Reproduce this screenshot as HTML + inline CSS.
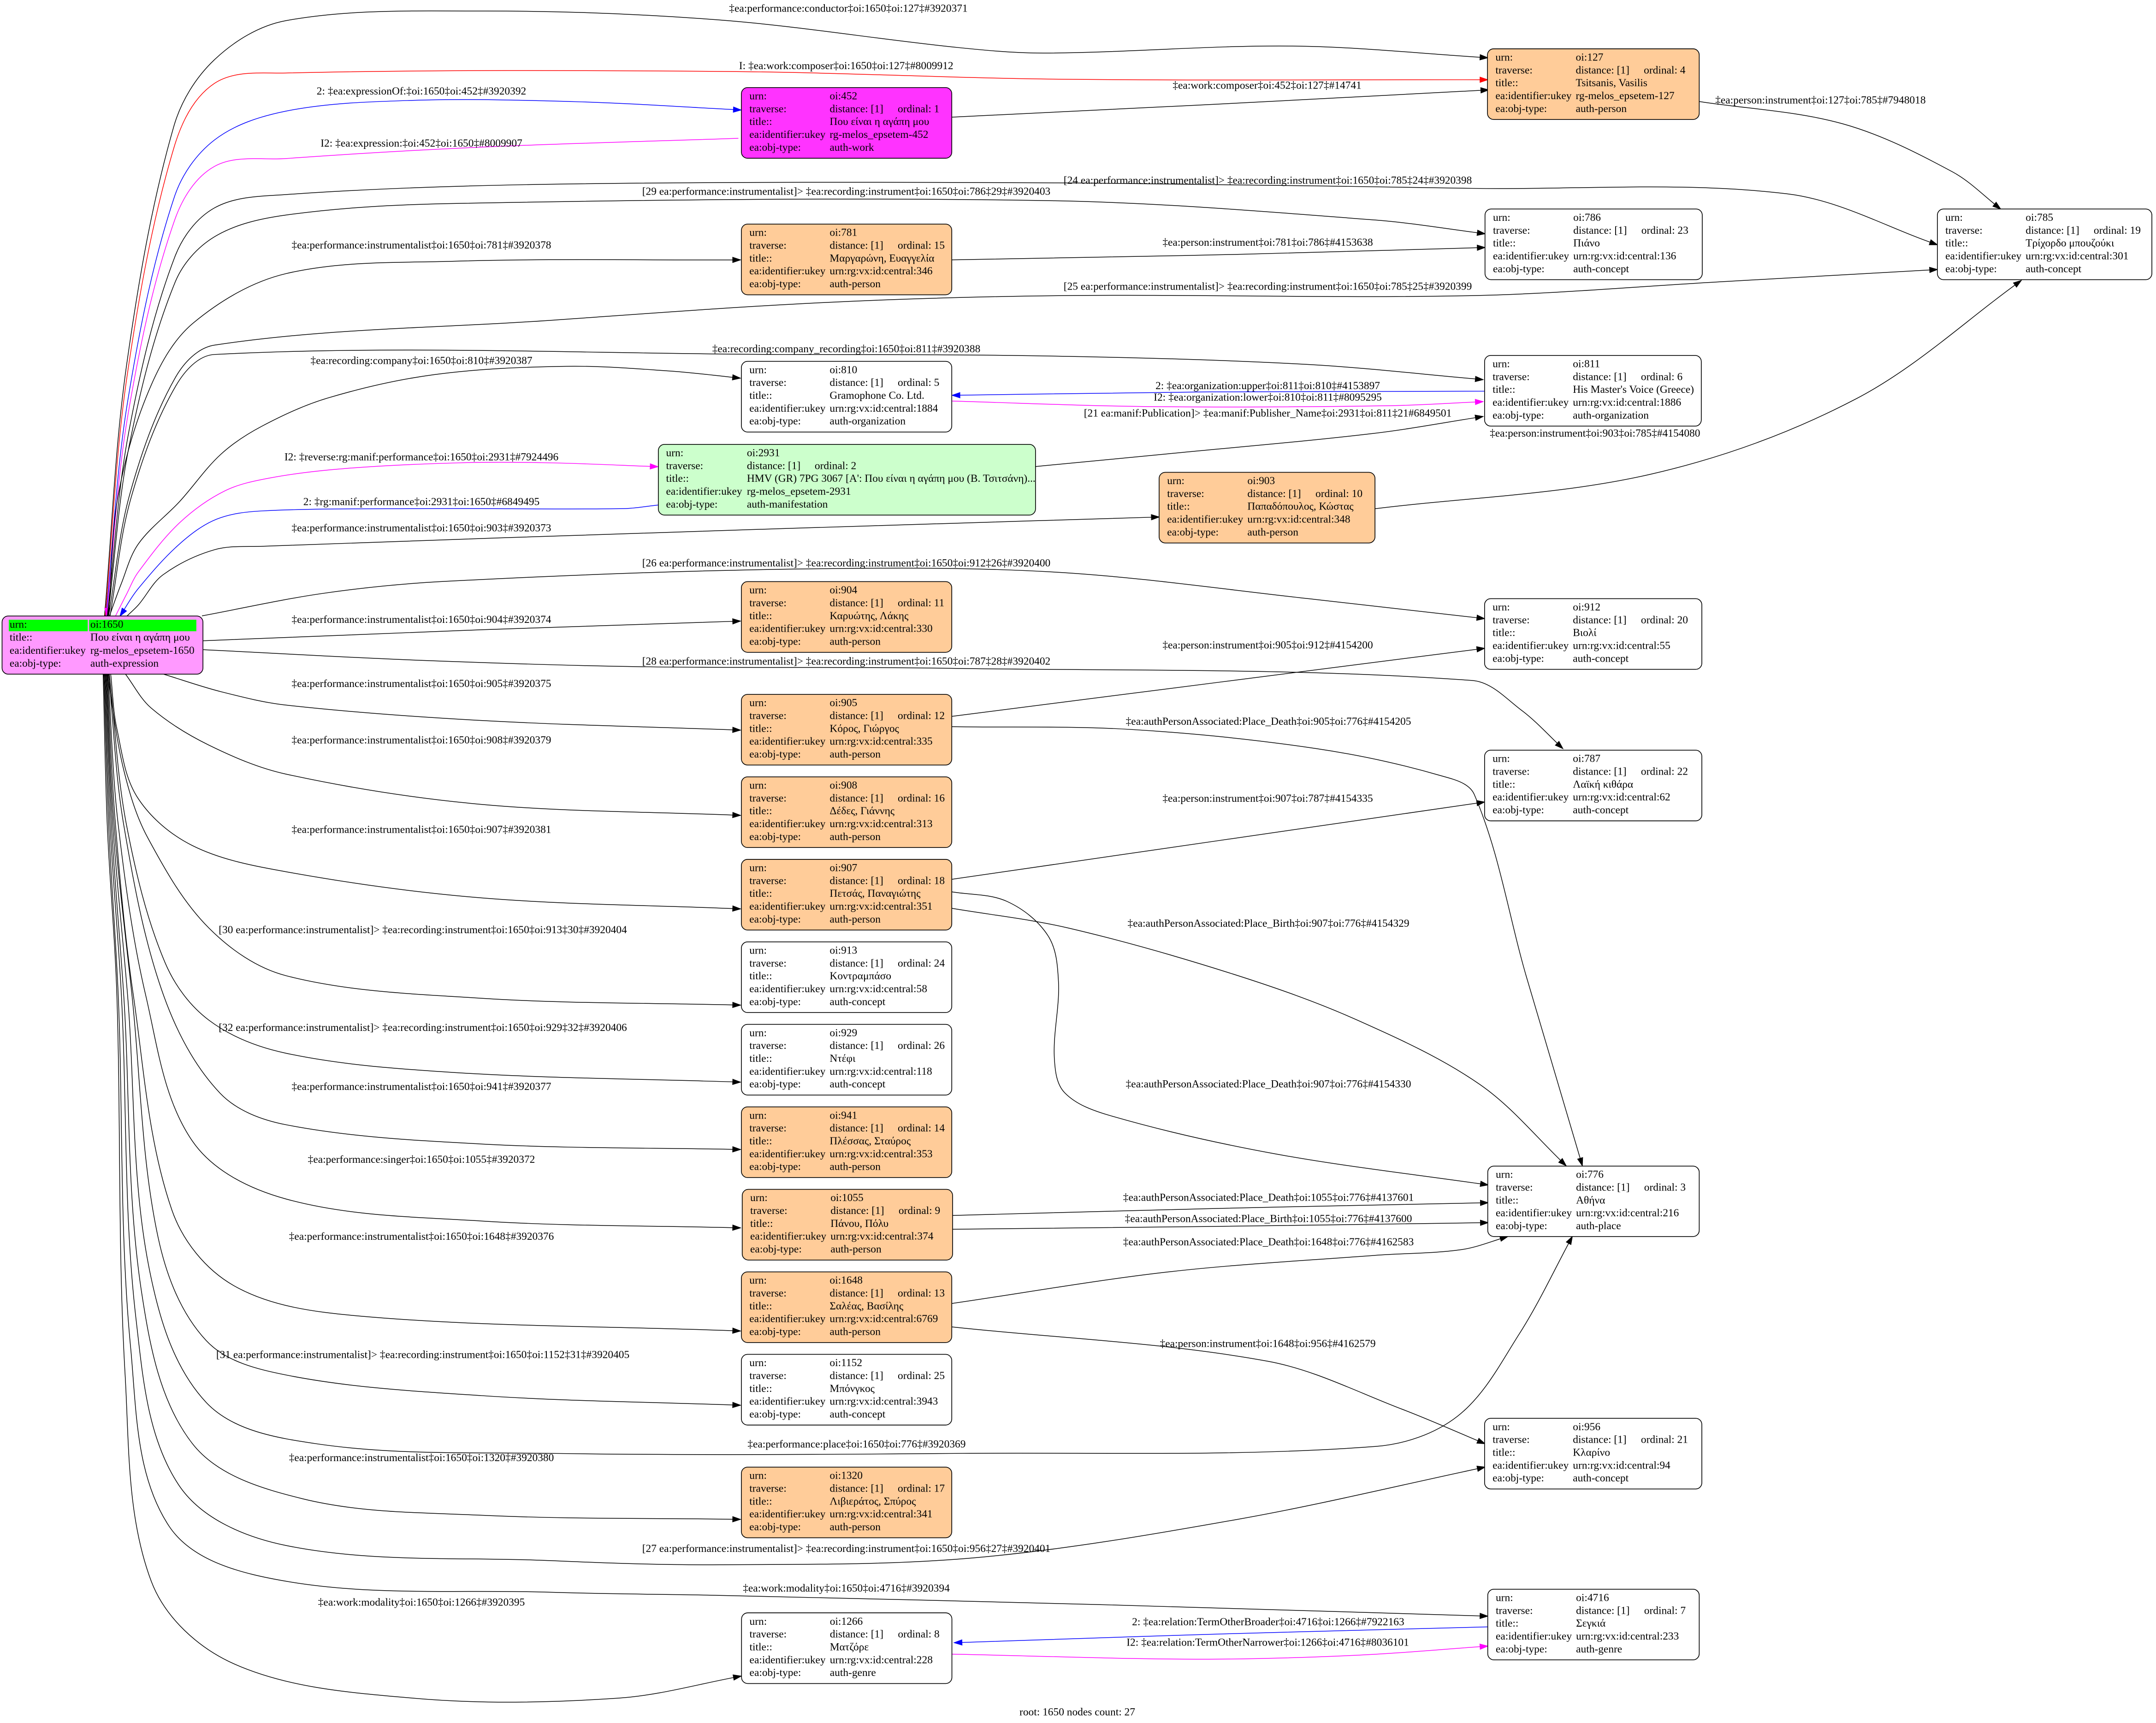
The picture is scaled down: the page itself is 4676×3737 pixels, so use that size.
<!DOCTYPE html>
<html>
<head>
<meta charset="utf-8">
<style>
html,body{margin:0;padding:0;background:#fff;overflow:hidden;}
svg{display:block;}
text{font-family:"Liberation Serif","DejaVu Serif","Noto Serif CJK SC",serif;font-size:7.85px;fill:#000;}
.m{text-anchor:middle;}
.b{stroke:#000;stroke-width:0.55;}
</style>
</head>
<body>
<svg id="s" xmlns="http://www.w3.org/2000/svg" width="4676" height="3737" viewBox="0 0 1568 1253.1" preserveAspectRatio="none">
<rect x="0" y="0" width="1568" height="1253.1" fill="#fff"/>
<g id="edges"></g>

<!-- ROOT -->
<g>
<rect class="b" x="1.5" y="448" width="146.1" height="42.3" rx="4.5" fill="#ff99ff"/>
<rect x="6.4" y="450.7" width="57.4" height="8.4" fill="#00ff00"/>
<rect x="64.8" y="450.7" width="78" height="8.4" fill="#00ff00"/>
<text x="7" y="456.6">urn:</text><text x="65.7" y="456.6">oi:1650</text>
<text x="7" y="466">title::</text><text x="65.7" y="466">Που είναι η αγάπη μου</text>
<text x="7" y="475.5">ea:identifier:ukey</text><text x="65.7" y="475.5">rg-melos_epsetem-1650</text>
<text x="7" y="484.9">ea:obj-type:</text><text x="65.7" y="484.9">auth-expression</text>
</g>

<!-- 127 -->
<g transform="translate(1081.8,35.5)">
<rect class="b" width="154" height="51.4" rx="4.5" fill="#ffcc99"/>
<text x="5.8" y="8.6">urn:</text><text x="64.2" y="8.6">oi:127</text>
<text x="5.8" y="17.93">traverse:</text><text x="64.2" y="17.93">distance: [1]</text><text x="113.7" y="17.93">ordinal: 4</text>
<text x="5.8" y="27.26">title::</text><text x="64.2" y="27.26">Tsitsanis, Vasilis</text>
<text x="5.8" y="36.6">ea:identifier:ukey</text><text x="64.2" y="36.6">rg-melos_epsetem-127</text>
<text x="5.8" y="45.93">ea:obj-type:</text><text x="64.2" y="45.93">auth-person</text>
</g>

<!-- 452 -->
<g transform="translate(539.2,63.7)">
<rect class="b" width="153" height="51.4" rx="4.5" fill="#ff33ff"/>
<text x="5.8" y="8.6">urn:</text><text x="64.2" y="8.6">oi:452</text>
<text x="5.8" y="17.93">traverse:</text><text x="64.2" y="17.93">distance: [1]</text><text x="113.7" y="17.93">ordinal: 1</text>
<text x="5.8" y="27.26">title::</text><text x="64.2" y="27.26">Που είναι η αγάπη μου</text>
<text x="5.8" y="36.6">ea:identifier:ukey</text><text x="64.2" y="36.6">rg-melos_epsetem-452</text>
<text x="5.8" y="45.93">ea:obj-type:</text><text x="64.2" y="45.93">auth-work</text>
</g>

<!-- 785 -->
<g transform="translate(1409,152)">
<rect class="b" width="156" height="51.4" rx="4.5" fill="#fff"/>
<text x="5.8" y="8.6">urn:</text><text x="64.2" y="8.6">oi:785</text>
<text x="5.8" y="17.93">traverse:</text><text x="64.2" y="17.93">distance: [1]</text><text x="113.7" y="17.93">ordinal: 19</text>
<text x="5.8" y="27.26">title::</text><text x="64.2" y="27.26">Τρίχορδο μπουζούκι</text>
<text x="5.8" y="36.6">ea:identifier:ukey</text><text x="64.2" y="36.6">urn:rg:vx:id:central:301</text>
<text x="5.8" y="45.93">ea:obj-type:</text><text x="64.2" y="45.93">auth-concept</text>
</g>

<!-- 786 -->
<g transform="translate(1080,152)">
<rect class="b" width="158" height="51.4" rx="4.5" fill="#fff"/>
<text x="5.8" y="8.6">urn:</text><text x="64.2" y="8.6">oi:786</text>
<text x="5.8" y="17.93">traverse:</text><text x="64.2" y="17.93">distance: [1]</text><text x="113.7" y="17.93">ordinal: 23</text>
<text x="5.8" y="27.26">title::</text><text x="64.2" y="27.26">Πιάνο</text>
<text x="5.8" y="36.6">ea:identifier:ukey</text><text x="64.2" y="36.6">urn:rg:vx:id:central:136</text>
<text x="5.8" y="45.93">ea:obj-type:</text><text x="64.2" y="45.93">auth-concept</text>
</g>

<!-- 781 -->
<g transform="translate(539.2,163)">
<rect class="b" width="153" height="51.4" rx="4.5" fill="#ffcc99"/>
<text x="5.8" y="8.6">urn:</text><text x="64.2" y="8.6">oi:781</text>
<text x="5.8" y="17.93">traverse:</text><text x="64.2" y="17.93">distance: [1]</text><text x="113.7" y="17.93">ordinal: 15</text>
<text x="5.8" y="27.26">title::</text><text x="64.2" y="27.26">Μαργαρώνη, Ευαγγελία</text>
<text x="5.8" y="36.6">ea:identifier:ukey</text><text x="64.2" y="36.6">urn:rg:vx:id:central:346</text>
<text x="5.8" y="45.93">ea:obj-type:</text><text x="64.2" y="45.93">auth-person</text>
</g>

<!-- 810 -->
<g transform="translate(539.2,262.8)">
<rect class="b" width="153" height="51.4" rx="4.5" fill="#fff"/>
<text x="5.8" y="8.6">urn:</text><text x="64.2" y="8.6">oi:810</text>
<text x="5.8" y="17.93">traverse:</text><text x="64.2" y="17.93">distance: [1]</text><text x="113.7" y="17.93">ordinal: 5</text>
<text x="5.8" y="27.26">title::</text><text x="64.2" y="27.26">Gramophone Co. Ltd.</text>
<text x="5.8" y="36.6">ea:identifier:ukey</text><text x="64.2" y="36.6">urn:rg:vx:id:central:1884</text>
<text x="5.8" y="45.93">ea:obj-type:</text><text x="64.2" y="45.93">auth-organization</text>
</g>

<!-- 811 -->
<g transform="translate(1079.7,258.5)">
<rect class="b" width="157.6" height="51.4" rx="4.5" fill="#fff"/>
<text x="5.8" y="8.6">urn:</text><text x="64.2" y="8.6">oi:811</text>
<text x="5.8" y="17.93">traverse:</text><text x="64.2" y="17.93">distance: [1]</text><text x="113.7" y="17.93">ordinal: 6</text>
<text x="5.8" y="27.26">title::</text><text x="64.2" y="27.26">His Master's Voice (Greece)</text>
<text x="5.8" y="36.6">ea:identifier:ukey</text><text x="64.2" y="36.6">urn:rg:vx:id:central:1886</text>
<text x="5.8" y="45.93">ea:obj-type:</text><text x="64.2" y="45.93">auth-organization</text>
</g>

<!-- 2931 -->
<g transform="translate(478.8,323.2)">
<rect class="b" width="274.3" height="51.4" rx="4.5" fill="#ccffcc"/>
<text x="5.6" y="8.6">urn:</text><text x="64.4" y="8.6">oi:2931</text>
<text x="5.6" y="17.93">traverse:</text><text x="64.4" y="17.93">distance: [1]</text><text x="113.7" y="17.93">ordinal: 2</text>
<text x="5.6" y="27.26">title::</text><text x="64.4" y="27.26">HMV (GR) 7PG 3067 [A': Που είναι η αγάπη μου (Β. Τσιτσάνη)...</text>
<text x="5.6" y="36.6">ea:identifier:ukey</text><text x="64.4" y="36.6">rg-melos_epsetem-2931</text>
<text x="5.6" y="45.93">ea:obj-type:</text><text x="64.4" y="45.93">auth-manifestation</text>
</g>

<!-- 903 -->
<g transform="translate(843,343.5)">
<rect class="b" width="157" height="51.4" rx="4.5" fill="#ffcc99"/>
<text x="5.8" y="8.6">urn:</text><text x="64.2" y="8.6">oi:903</text>
<text x="5.8" y="17.93">traverse:</text><text x="64.2" y="17.93">distance: [1]</text><text x="113.7" y="17.93">ordinal: 10</text>
<text x="5.8" y="27.26">title::</text><text x="64.2" y="27.26">Παπαδόπουλος, Κώστας</text>
<text x="5.8" y="36.6">ea:identifier:ukey</text><text x="64.2" y="36.6">urn:rg:vx:id:central:348</text>
<text x="5.8" y="45.93">ea:obj-type:</text><text x="64.2" y="45.93">auth-person</text>
</g>

<!-- 912 -->
<g transform="translate(1079.7,435.4)">
<rect class="b" width="158" height="51.4" rx="4.5" fill="#fff"/>
<text x="5.8" y="8.6">urn:</text><text x="64.2" y="8.6">oi:912</text>
<text x="5.8" y="17.93">traverse:</text><text x="64.2" y="17.93">distance: [1]</text><text x="113.7" y="17.93">ordinal: 20</text>
<text x="5.8" y="27.26">title::</text><text x="64.2" y="27.26">Βιολί</text>
<text x="5.8" y="36.6">ea:identifier:ukey</text><text x="64.2" y="36.6">urn:rg:vx:id:central:55</text>
<text x="5.8" y="45.93">ea:obj-type:</text><text x="64.2" y="45.93">auth-concept</text>
</g>

<!-- 904 -->
<g transform="translate(539.2,423)">
<rect class="b" width="153" height="51.4" rx="4.5" fill="#ffcc99"/>
<text x="5.8" y="8.6">urn:</text><text x="64.2" y="8.6">oi:904</text>
<text x="5.8" y="17.93">traverse:</text><text x="64.2" y="17.93">distance: [1]</text><text x="113.7" y="17.93">ordinal: 11</text>
<text x="5.8" y="27.26">title::</text><text x="64.2" y="27.26">Καρυώτης, Λάκης</text>
<text x="5.8" y="36.6">ea:identifier:ukey</text><text x="64.2" y="36.6">urn:rg:vx:id:central:330</text>
<text x="5.8" y="45.93">ea:obj-type:</text><text x="64.2" y="45.93">auth-person</text>
</g>

<!-- 905 -->
<g transform="translate(539.2,505)">
<rect class="b" width="153" height="51.4" rx="4.5" fill="#ffcc99"/>
<text x="5.8" y="8.6">urn:</text><text x="64.2" y="8.6">oi:905</text>
<text x="5.8" y="17.93">traverse:</text><text x="64.2" y="17.93">distance: [1]</text><text x="113.7" y="17.93">ordinal: 12</text>
<text x="5.8" y="27.26">title::</text><text x="64.2" y="27.26">Κόρος, Γιώργος</text>
<text x="5.8" y="36.6">ea:identifier:ukey</text><text x="64.2" y="36.6">urn:rg:vx:id:central:335</text>
<text x="5.8" y="45.93">ea:obj-type:</text><text x="64.2" y="45.93">auth-person</text>
</g>

<!-- 787 -->
<g transform="translate(1079.7,545.6)">
<rect class="b" width="158" height="51.4" rx="4.5" fill="#fff"/>
<text x="5.8" y="8.6">urn:</text><text x="64.2" y="8.6">oi:787</text>
<text x="5.8" y="17.93">traverse:</text><text x="64.2" y="17.93">distance: [1]</text><text x="113.7" y="17.93">ordinal: 22</text>
<text x="5.8" y="27.26">title::</text><text x="64.2" y="27.26">Λαϊκή κιθάρα</text>
<text x="5.8" y="36.6">ea:identifier:ukey</text><text x="64.2" y="36.6">urn:rg:vx:id:central:62</text>
<text x="5.8" y="45.93">ea:obj-type:</text><text x="64.2" y="45.93">auth-concept</text>
</g>

<!-- 908 -->
<g transform="translate(539.2,565)">
<rect class="b" width="153" height="51.4" rx="4.5" fill="#ffcc99"/>
<text x="5.8" y="8.6">urn:</text><text x="64.2" y="8.6">oi:908</text>
<text x="5.8" y="17.93">traverse:</text><text x="64.2" y="17.93">distance: [1]</text><text x="113.7" y="17.93">ordinal: 16</text>
<text x="5.8" y="27.26">title::</text><text x="64.2" y="27.26">Δέδες, Γιάννης</text>
<text x="5.8" y="36.6">ea:identifier:ukey</text><text x="64.2" y="36.6">urn:rg:vx:id:central:313</text>
<text x="5.8" y="45.93">ea:obj-type:</text><text x="64.2" y="45.93">auth-person</text>
</g>

<!-- 907 -->
<g transform="translate(539.2,625)">
<rect class="b" width="153" height="51.4" rx="4.5" fill="#ffcc99"/>
<text x="5.8" y="8.6">urn:</text><text x="64.2" y="8.6">oi:907</text>
<text x="5.8" y="17.93">traverse:</text><text x="64.2" y="17.93">distance: [1]</text><text x="113.7" y="17.93">ordinal: 18</text>
<text x="5.8" y="27.26">title::</text><text x="64.2" y="27.26">Πετσάς, Παναγιώτης</text>
<text x="5.8" y="36.6">ea:identifier:ukey</text><text x="64.2" y="36.6">urn:rg:vx:id:central:351</text>
<text x="5.8" y="45.93">ea:obj-type:</text><text x="64.2" y="45.93">auth-person</text>
</g>

<!-- 913 -->
<g transform="translate(539.2,685)">
<rect class="b" width="153" height="51.4" rx="4.5" fill="#fff"/>
<text x="5.8" y="8.6">urn:</text><text x="64.2" y="8.6">oi:913</text>
<text x="5.8" y="17.93">traverse:</text><text x="64.2" y="17.93">distance: [1]</text><text x="113.7" y="17.93">ordinal: 24</text>
<text x="5.8" y="27.26">title::</text><text x="64.2" y="27.26">Κοντραμπάσο</text>
<text x="5.8" y="36.6">ea:identifier:ukey</text><text x="64.2" y="36.6">urn:rg:vx:id:central:58</text>
<text x="5.8" y="45.93">ea:obj-type:</text><text x="64.2" y="45.93">auth-concept</text>
</g>

<!-- 929 -->
<g transform="translate(539.2,745)">
<rect class="b" width="153" height="51.4" rx="4.5" fill="#fff"/>
<text x="5.8" y="8.6">urn:</text><text x="64.2" y="8.6">oi:929</text>
<text x="5.8" y="17.93">traverse:</text><text x="64.2" y="17.93">distance: [1]</text><text x="113.7" y="17.93">ordinal: 26</text>
<text x="5.8" y="27.26">title::</text><text x="64.2" y="27.26">Ντέφι</text>
<text x="5.8" y="36.6">ea:identifier:ukey</text><text x="64.2" y="36.6">urn:rg:vx:id:central:118</text>
<text x="5.8" y="45.93">ea:obj-type:</text><text x="64.2" y="45.93">auth-concept</text>
</g>

<!-- 941 -->
<g transform="translate(539.2,805)">
<rect class="b" width="153" height="51.4" rx="4.5" fill="#ffcc99"/>
<text x="5.8" y="8.6">urn:</text><text x="64.2" y="8.6">oi:941</text>
<text x="5.8" y="17.93">traverse:</text><text x="64.2" y="17.93">distance: [1]</text><text x="113.7" y="17.93">ordinal: 14</text>
<text x="5.8" y="27.26">title::</text><text x="64.2" y="27.26">Πλέσσας, Σταύρος</text>
<text x="5.8" y="36.6">ea:identifier:ukey</text><text x="64.2" y="36.6">urn:rg:vx:id:central:353</text>
<text x="5.8" y="45.93">ea:obj-type:</text><text x="64.2" y="45.93">auth-person</text>
</g>

<!-- 776 -->
<g transform="translate(1082,848.1)">
<rect class="b" width="153.8" height="51.2" rx="4.5" fill="#fff"/>
<text x="5.8" y="8.5">urn:</text><text x="64.2" y="8.5">oi:776</text>
<text x="5.8" y="17.8">traverse:</text><text x="64.2" y="17.8">distance: [1]</text><text x="113.7" y="17.8">ordinal: 3</text>
<text x="5.8" y="27.2">title::</text><text x="64.2" y="27.2">Αθήνα</text>
<text x="5.8" y="36.5">ea:identifier:ukey</text><text x="64.2" y="36.5">urn:rg:vx:id:central:216</text>
<text x="5.8" y="45.8">ea:obj-type:</text><text x="64.2" y="45.8">auth-place</text>
</g>

<!-- 1055 -->
<g transform="translate(539.8,865)">
<rect class="b" width="153" height="51.4" rx="4.5" fill="#ffcc99"/>
<text x="5.8" y="8.6">urn:</text><text x="64.2" y="8.6">oi:1055</text>
<text x="5.8" y="17.93">traverse:</text><text x="64.2" y="17.93">distance: [1]</text><text x="113.7" y="17.93">ordinal: 9</text>
<text x="5.8" y="27.26">title::</text><text x="64.2" y="27.26">Πάνου, Πόλυ</text>
<text x="5.8" y="36.6">ea:identifier:ukey</text><text x="64.2" y="36.6">urn:rg:vx:id:central:374</text>
<text x="5.8" y="45.93">ea:obj-type:</text><text x="64.2" y="45.93">auth-person</text>
</g>

<!-- 1648 -->
<g transform="translate(539.2,925)">
<rect class="b" width="153" height="51.4" rx="4.5" fill="#ffcc99"/>
<text x="5.8" y="8.6">urn:</text><text x="64.2" y="8.6">oi:1648</text>
<text x="5.8" y="17.93">traverse:</text><text x="64.2" y="17.93">distance: [1]</text><text x="113.7" y="17.93">ordinal: 13</text>
<text x="5.8" y="27.26">title::</text><text x="64.2" y="27.26">Σαλέας, Βασίλης</text>
<text x="5.8" y="36.6">ea:identifier:ukey</text><text x="64.2" y="36.6">urn:rg:vx:id:central:6769</text>
<text x="5.8" y="45.93">ea:obj-type:</text><text x="64.2" y="45.93">auth-person</text>
</g>

<!-- 1152 -->
<g transform="translate(539.2,985)">
<rect class="b" width="153" height="51.4" rx="4.5" fill="#fff"/>
<text x="5.8" y="8.6">urn:</text><text x="64.2" y="8.6">oi:1152</text>
<text x="5.8" y="17.93">traverse:</text><text x="64.2" y="17.93">distance: [1]</text><text x="113.7" y="17.93">ordinal: 25</text>
<text x="5.8" y="27.26">title::</text><text x="64.2" y="27.26">Μπόνγκος</text>
<text x="5.8" y="36.6">ea:identifier:ukey</text><text x="64.2" y="36.6">urn:rg:vx:id:central:3943</text>
<text x="5.8" y="45.93">ea:obj-type:</text><text x="64.2" y="45.93">auth-concept</text>
</g>

<!-- 956 -->
<g transform="translate(1079.7,1031.5)">
<rect class="b" width="158" height="51.4" rx="4.5" fill="#fff"/>
<text x="5.8" y="8.6">urn:</text><text x="64.2" y="8.6">oi:956</text>
<text x="5.8" y="17.93">traverse:</text><text x="64.2" y="17.93">distance: [1]</text><text x="113.7" y="17.93">ordinal: 21</text>
<text x="5.8" y="27.26">title::</text><text x="64.2" y="27.26">Κλαρίνο</text>
<text x="5.8" y="36.6">ea:identifier:ukey</text><text x="64.2" y="36.6">urn:rg:vx:id:central:94</text>
<text x="5.8" y="45.93">ea:obj-type:</text><text x="64.2" y="45.93">auth-concept</text>
</g>

<!-- 1320 -->
<g transform="translate(539.2,1067)">
<rect class="b" width="153" height="51.4" rx="4.5" fill="#ffcc99"/>
<text x="5.8" y="8.6">urn:</text><text x="64.2" y="8.6">oi:1320</text>
<text x="5.8" y="17.93">traverse:</text><text x="64.2" y="17.93">distance: [1]</text><text x="113.7" y="17.93">ordinal: 17</text>
<text x="5.8" y="27.26">title::</text><text x="64.2" y="27.26">Λιβιεράτος, Σπύρος</text>
<text x="5.8" y="36.6">ea:identifier:ukey</text><text x="64.2" y="36.6">urn:rg:vx:id:central:341</text>
<text x="5.8" y="45.93">ea:obj-type:</text><text x="64.2" y="45.93">auth-person</text>
</g>

<!-- 4716 -->
<g transform="translate(1082,1155.8)">
<rect class="b" width="153.8" height="51.4" rx="4.5" fill="#fff"/>
<text x="5.8" y="8.6">urn:</text><text x="64.2" y="8.6">oi:4716</text>
<text x="5.8" y="17.93">traverse:</text><text x="64.2" y="17.93">distance: [1]</text><text x="113.7" y="17.93">ordinal: 7</text>
<text x="5.8" y="27.26">title::</text><text x="64.2" y="27.26">Σεγκιά</text>
<text x="5.8" y="36.6">ea:identifier:ukey</text><text x="64.2" y="36.6">urn:rg:vx:id:central:233</text>
<text x="5.8" y="45.93">ea:obj-type:</text><text x="64.2" y="45.93">auth-genre</text>
</g>

<!-- 1266 -->
<g transform="translate(539.3,1173)">
<rect class="b" width="153" height="51.4" rx="4.5" fill="#fff"/>
<text x="5.8" y="8.6">urn:</text><text x="64.2" y="8.6">oi:1266</text>
<text x="5.8" y="17.93">traverse:</text><text x="64.2" y="17.93">distance: [1]</text><text x="113.7" y="17.93">ordinal: 8</text>
<text x="5.8" y="27.26">title::</text><text x="64.2" y="27.26">Ματζόρε</text>
<text x="5.8" y="36.6">ea:identifier:ukey</text><text x="64.2" y="36.6">urn:rg:vx:id:central:228</text>
<text x="5.8" y="45.93">ea:obj-type:</text><text x="64.2" y="45.93">auth-genre</text>
</g>

<!-- EDGE LABELS -->
<g>
<text class="m" x="617" y="8.6">‡ea:performance:conductor‡oi:1650‡oi:127‡#3920371</text>
<text class="m" x="615.4" y="50.3">I: ‡ea:work:composer‡oi:1650‡oi:127‡#8009912</text>
<text class="m" x="306.5" y="68.7">2: ‡ea:expressionOf:‡oi:1650‡oi:452‡#3920392</text>
<text class="m" x="921.5" y="64.5">‡ea:work:composer‡oi:452‡oi:127‡#14741</text>
<text class="m" x="306.5" y="106.7">I2: ‡ea:expression:‡oi:452‡oi:1650‡#8009907</text>
<text class="m" x="1324" y="75.2">‡ea:person:instrument‡oi:127‡oi:785‡#7948018</text>
<text class="m" x="922" y="133.7">[24 ea:performance:instrumentalist]&gt; ‡ea:recording:instrument‡oi:1650‡oi:785‡24‡#3920398</text>
<text class="m" x="615.5" y="141.7">[29 ea:performance:instrumentalist]&gt; ‡ea:recording:instrument‡oi:1650‡oi:786‡29‡#3920403</text>
<text class="m" x="306.5" y="180.7">‡ea:performance:instrumentalist‡oi:1650‡oi:781‡#3920378</text>
<text class="m" x="922" y="178.7">‡ea:person:instrument‡oi:781‡oi:786‡#4153638</text>
<text class="m" x="922" y="210.7">[25 ea:performance:instrumentalist]&gt; ‡ea:recording:instrument‡oi:1650‡oi:785‡25‡#3920399</text>
<text class="m" x="615.5" y="256.2">‡ea:recording:company_recording‡oi:1650‡oi:811‡#3920388</text>
<text class="m" x="306.5" y="264.8">‡ea:recording:company‡oi:1650‡oi:810‡#3920387</text>
<text class="m" x="922" y="283">2: ‡ea:organization:upper‡oi:811‡oi:810‡#4153897</text>
<text class="m" x="922" y="291.4">I2: ‡ea:organization:lower‡oi:810‡oi:811‡#8095295</text>
<text class="m" x="922" y="303">[21 ea:manif:Publication]&gt; ‡ea:manif:Publisher_Name‡oi:2931‡oi:811‡21#6849501</text>
<text class="m" x="306.5" y="334.8">I2: ‡reverse:rg:manif:performance‡oi:1650‡oi:2931‡#7924496</text>
<text class="m" x="306.5" y="367.4">2: ‡rg:manif:performance‡oi:2931‡oi:1650‡#6849495</text>
<text class="m" x="1160" y="317.5">‡ea:person:instrument‡oi:903‡oi:785‡#4154080</text>
<text class="m" x="306.5" y="386.4">‡ea:performance:instrumentalist‡oi:1650‡oi:903‡#3920373</text>
<text class="m" x="615.5" y="411.9">[26 ea:performance:instrumentalist]&gt; ‡ea:recording:instrument‡oi:1650‡oi:912‡26‡#3920400</text>
<text class="m" x="306.5" y="453.1">‡ea:performance:instrumentalist‡oi:1650‡oi:904‡#3920374</text>
<text class="m" x="922" y="471.6">‡ea:person:instrument‡oi:905‡oi:912‡#4154200</text>
<text class="m" x="615.5" y="483.3">[28 ea:performance:instrumentalist]&gt; ‡ea:recording:instrument‡oi:1650‡oi:787‡28‡#3920402</text>
<text class="m" x="306.5" y="499.7">‡ea:performance:instrumentalist‡oi:1650‡oi:905‡#3920375</text>
<text class="m" x="922.5" y="527.2">‡ea:authPersonAssociated:Place_Death‡oi:905‡oi:776‡#4154205</text>
<text class="m" x="306.5" y="540.7">‡ea:performance:instrumentalist‡oi:1650‡oi:908‡#3920379</text>
<text class="m" x="922" y="583.1">‡ea:person:instrument‡oi:907‡oi:787‡#4154335</text>
<text class="m" x="306.5" y="605.7">‡ea:performance:instrumentalist‡oi:1650‡oi:907‡#3920381</text>
<text class="m" x="922.5" y="674">‡ea:authPersonAssociated:Place_Birth‡oi:907‡oi:776‡#4154329</text>
<text class="m" x="307.5" y="678.7">[30 ea:performance:instrumentalist]&gt; ‡ea:recording:instrument‡oi:1650‡oi:913‡30‡#3920404</text>
<text class="m" x="307.5" y="749.7">[32 ea:performance:instrumentalist]&gt; ‡ea:recording:instrument‡oi:1650‡oi:929‡32‡#3920406</text>
<text class="m" x="306.5" y="792.7">‡ea:performance:instrumentalist‡oi:1650‡oi:941‡#3920377</text>
<text class="m" x="922.5" y="790.8">‡ea:authPersonAssociated:Place_Death‡oi:907‡oi:776‡#4154330</text>
<text class="m" x="306.5" y="845.7">‡ea:performance:singer‡oi:1650‡oi:1055‡#3920372</text>
<text class="m" x="922.5" y="873.4">‡ea:authPersonAssociated:Place_Death‡oi:1055‡oi:776‡#4137601</text>
<text class="m" x="922.5" y="888.7">‡ea:authPersonAssociated:Place_Birth‡oi:1055‡oi:776‡#4137600</text>
<text class="m" x="306.5" y="901.7">‡ea:performance:instrumentalist‡oi:1650‡oi:1648‡#3920376</text>
<text class="m" x="922.5" y="905.7">‡ea:authPersonAssociated:Place_Death‡oi:1648‡oi:776‡#4162583</text>
<text class="m" x="922" y="979.7">‡ea:person:instrument‡oi:1648‡oi:956‡#4162579</text>
<text class="m" x="307.5" y="987.7">[31 ea:performance:instrumentalist]&gt; ‡ea:recording:instrument‡oi:1650‡oi:1152‡31‡#3920405</text>
<text class="m" x="623" y="1052.7">‡ea:performance:place‡oi:1650‡oi:776‡#3920369</text>
<text class="m" x="306.5" y="1062.7">‡ea:performance:instrumentalist‡oi:1650‡oi:1320‡#3920380</text>
<text class="m" x="615.5" y="1128.7">[27 ea:performance:instrumentalist]&gt; ‡ea:recording:instrument‡oi:1650‡oi:956‡27‡#3920401</text>
<text class="m" x="615.5" y="1157.6">‡ea:work:modality‡oi:1650‡oi:4716‡#3920394</text>
<text class="m" x="306.5" y="1167.7">‡ea:work:modality‡oi:1650‡oi:1266‡#3920395</text>
<text class="m" x="922.3" y="1182">2: ‡ea:relation:TermOtherBroader‡oi:4716‡oi:1266‡#7922163</text>
<text class="m" x="922" y="1197">I2: ‡ea:relation:TermOtherNarrower‡oi:1266‡oi:4716‡#8036101</text>
<text class="m" x="783.5" y="1247.5">root: 1650 nodes count: 27</text>
</g>
</svg>
<script>
(function(){
var NS="http://www.w3.org/2000/svg";
var K='#000000',R='#ff0000',B='#0000ff',M='#ff00ff';
var E=[
[K,[76,43.4],[[208,15],[350,8],[523,14.5],[697,34.6],[760,38.6],[940,33.5],[1082,42]],'e'],
[R,[76.5,60.6],[[208,53.1],[530,52],[770,57.6],[1082,58]],'e'],
[B,[77,101.8],[[208,80.8],[300,73],[420,74],[539,80]],'e'],
[M,[77.5,121],[[208,115.3],[350,107],[537,100.6]],'s'],
[K,[78,151.2],[[208,141.5],[400,134],[770,133],[1071,137],[1300,141],[1409,178]],'e'],
[K,[78.5,172.2],[[208,156.4],[330,148],[766,146],[1000,160],[1080,170]],'e'],
[K,null,[[79,448],[86,360],[110,280],[140.8,234.7],[208,199],[330,190],[538.5,189]],'e'],
[K,[79,251],[[400,233],[600,220],[773,215],[1071,215],[1250,205],[1409,196]],'e'],
[K,[80,257.8],[[570,257.8],[767,259],[950,265],[1078.6,276.1]],'e'],
[K,null,[[79.6,448],[88,425],[100.6,395.6],[130.6,364.8],[160.5,330.5],[190.4,310],[238.3,289.5],[316.2,272.4],[412,266.4],[486.8,269.8],[538.4,275]],'e'],
[M,null,[[84,448],[91.8,432.6],[100.6,416],[130.6,380.2],[163.5,357],[196.4,347.6],[250.3,340.8],[334,336.6],[400,336.6],[478.5,339.4]],'e'],
[B,null,[[87.3,448],[100.6,428],[130.6,395.6],[157.5,377.6],[190.4,371.6],[310.2,369.9],[453.9,369.9],[478.5,367.3]],'s'],
[K,null,[[92.4,448],[100.6,440],[118.6,418],[156,399.8],[190.4,397.3],[570,384.4],[843,376]],'e'],
[K,null,[[146.9,447.9],[235.3,431.5],[322.2,422.9],[570,414],[766,416],[956.9,436],[1079.7,449.9]],'e'],
[K,null,[[147.9,466],[350,458],[538.5,451.7]],'e'],
[K,null,[[147.9,472.5],[300,480],[465.8,484.9],[687.5,486],[1070.7,494.9],[1106.6,516.6],[1136.6,544.4]],'e'],
[K,null,[[118.6,490.2],[160.5,503],[208,512.8],[350,524],[538.5,531]],'e'],
[K,null,[[91.2,490.2],[110,515],[151.9,541.9],[208,563],[350,585],[538.5,593]],'e'],
[K,null,[[80.5,490.2],[85,530],[100,580],[140,615],[208,634],[350,653],[538.5,661]],'e'],
[K,null,[[78,490.2],[90,560],[107.3,609],[152,675],[208,709.6],[350,726],[538.5,731]],'e'],
[K,null,[[79.5,490.2],[92,600],[120,700],[152,742],[208,766],[330,780],[538.5,787]],'e'],
[K,null,[[79,490.2],[90,600],[119,724],[160,795],[208,818],[350,832],[538.5,836]],'e'],
[K,null,[[78.5,490.2],[86,600],[106,724],[140,830],[208,872],[350,888],[538.5,893]],'e'],
[K,null,[[78,490.2],[84,600],[97,724],[125,880],[170,935],[260,957],[538.5,968]],'e'],
[K,null,[[77.5,490.2],[83,600],[96,724],[115,900],[150,975],[208,1000],[350,1015],[538.5,1022]],'e'],
[K,null,[[77,490.2],[82,600],[92.8,724],[108,920],[150,1020],[230,1050],[400,1057],[700,1057],[1000,1052],[1060,1030],[1105,970],[1143.5,899.3]],'e'],
[K,null,[[76.5,490.2],[81,600],[90,724],[103,940],[140,1050],[220,1090],[350,1102],[538.5,1105]],'e'],
[K,null,[[76,490.2],[80,600],[88.3,724],[99,960],[130,1080],[208,1124],[400,1135],[523,1138],[708,1133],[900,1105],[1080,1067]],'e'],
[K,null,[[75.5,490.2],[79,600],[86,724],[95,980],[123,1110],[208,1150],[400,1158],[523,1160.3],[800,1167],[1082,1175.4]],'e'],
[K,null,[[75,490.2],[78,600],[85,724],[91,1000],[110,1150],[170,1210],[300,1235],[450,1235],[539,1219]],'e'],
[K,null,[[692.2,85.2],[900,75],[1082.6,65.4]],'e'],
[K,null,[[1235.6,73.8],[1340,90],[1420,125],[1455,152]],'e'],
[K,null,[[692.2,189],[900,185],[1080,180]],'e'],
[B,null,[[1079.7,284.5],[880,285],[692.5,287.5]],'e'],
[M,null,[[692.5,291.7],[836,295.7],[1009.4,295.1],[1078.6,292.1]],'e'],
[K,null,[[753.1,339.3],[850,330],[999,315.2],[1078.6,302.9]],'e'],
[K,null,[[1000,370],[1200,345],[1350,290],[1470,204]],'e'],
[K,null,[[692.2,521],[1079.7,471.5]],'e'],
[K,null,[[692.2,528.5],[822.2,530.5],[957,544.4],[1046.7,563.8],[1072.2,577.8],[1110,710],[1150.8,847.8]],'e'],
[K,null,[[692.2,639.5],[1079.7,583.3]],'e'],
[K,null,[[692.2,660.6],[777.3,675],[897,708.5],[986.9,741.8],[1076.7,789],[1139,847.8]],'e'],
[K,null,[[692.2,648.6],[732.4,655.6],[762.3,680.7],[769.8,714],[766.8,769.6],[774.3,794.7],[807.2,811.3],[927,839.1],[1082.3,861.8]],'e'],
[K,null,[[692.2,884],[880,879],[1082.3,874.7]],'e'],
[K,null,[[692.2,894],[880,892],[1082.3,889.2]],'e'],
[K,null,[[692.2,948],[850,925],[1000,913],[1063,908.8],[1096.6,899.3]],'e'],
[K,null,[[692.2,965],[922,990],[1020,1025],[1080,1050]],'e'],
[B,null,[[1082,1183.2],[892.7,1188.2],[694,1194.7]],'e'],
[M,null,[[692.3,1203],[869.6,1206.7],[985.1,1203.9],[1082,1197.2]],'e']
];
function nrm(v){var l=Math.sqrt(v[0]*v[0]+v[1]*v[1])||1;return [v[0]/l,v[1]/l];}
function f(n){return Math.round(n*100)/100;}
var g=document.getElementById('edges');
for(var k=0;k<E.length;k++){
  var e=E[k],col=e[0],up=e[1],P;
  if(up){
    var x0=up[0],ky=up[1],H=448-ky,dx=156-x0;
    P=[[x0,448],[x0+0.2*dx,448-0.45*H],[x0+0.63*dx,448-0.88*H],[156,ky]].concat(e[2]);
  } else P=e[2];
  var n=P.length,T=[];
  for(var i=0;i<n;i++){
    var a=P[Math.max(0,i-1)],b=P[Math.min(n-1,i+1)];
    T.push(nrm([b[0]-a[0],b[1]-a[1]]));
  }
  var d='M'+f(P[0][0])+','+f(P[0][1]);
  for(i=0;i<n-1;i++){
    var p=P[i],q=P[i+1];
    var L=Math.sqrt((q[0]-p[0])*(q[0]-p[0])+(q[1]-p[1])*(q[1]-p[1]))/3;
    d+=' C'+f(p[0]+T[i][0]*L)+','+f(p[1]+T[i][1]*L)+' '+f(q[0]-T[i+1][0]*L)+','+f(q[1]-T[i+1][1]*L)+' '+f(q[0])+','+f(q[1]);
  }
  var path=document.createElementNS(NS,'path');
  path.setAttribute('d',d);path.setAttribute('fill','none');
  path.setAttribute('stroke',col);path.setAttribute('stroke-width','0.5');
  g.appendChild(path);
  var tip,dir;
  if(e[3]==='s'){tip=P[0];dir=[-T[0][0],-T[0][1]];}
  else{tip=P[n-1];dir=T[n-1];}
  var len=5.6,hw=1.9;
  var bx=tip[0]-dir[0]*len,by=tip[1]-dir[1]*len;
  var px=-dir[1]*hw,py=dir[0]*hw;
  var poly=document.createElementNS(NS,'polygon');
  poly.setAttribute('points',f(tip[0])+','+f(tip[1])+' '+f(bx+px)+','+f(by+py)+' '+f(bx-px)+','+f(by-py));
  poly.setAttribute('fill',col);poly.setAttribute('stroke',col);poly.setAttribute('stroke-width','0.5');
  g.appendChild(poly);
}
})();
</script>
</body>
</html>
